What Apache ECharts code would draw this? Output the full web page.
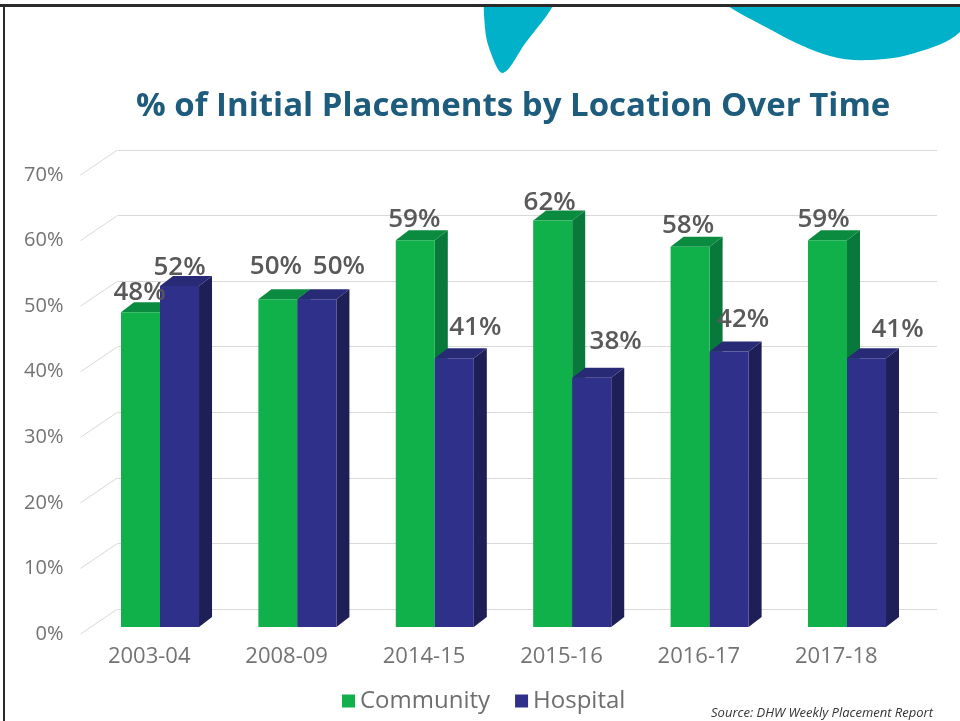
<!DOCTYPE html>
<html>
<head>
<meta charset="utf-8">
<script src="https://cdn.jsdelivr.net/npm/echarts@6/dist/echarts.min.js"></script>
<style>
  html, body { margin: 0; padding: 0; background: #fff; }
  #chart { width: 960px; height: 721px; }
</style>
</head>
<body>
<div id="chart"></div>
<script>
// data
var years = ['2003-04', '2008-09', '2014-15', '2015-16', '2016-17', '2017-18'];
var community = [48, 50, 59, 62, 58, 59];
var hospital = [52, 50, 41, 38, 42, 41];
var yTicks = [0, 10, 20, 30, 40, 50, 60, 70];

// hand placed label nudges (the source deck moved some labels by hand)
var commNudge = [[-1, 20], [-2, 33], [-1, 21], [-3, 18], [-2, 21], [-4, 21]];
var hospNudge = [[0, 18], [22, 33], [21, 31], [24, 36], [14, 32], [31, 29]];

var DEPTH_X = 13, DEPTH_Y = 10;
var FONT = '"Open Sans", "Noto Sans", sans-serif';

var colors = {
  community: { front: '#10b04b', side: '#08793a', top: '#0a8b40' },
  hospital: { front: '#2e3089', side: '#1f1f58', top: '#282a76' }
};

var chart = echarts.init(document.getElementById('chart'), null, { renderer: 'canvas' });

function barRenderer(which) {
  var c = colors[which];
  var nudge = which === 'community' ? commNudge : hospNudge;
  return function (params, api) {
    var i = api.value(0);
    var v = api.value(1);
    var base = api.coord([i, 0]);
    var top = api.coord([i, v]);
    var bw = api.size([1, 0])[0] * 0.284;
    var x0 = which === 'community' ? base[0] - bw : base[0];
    var x1 = x0 + bw;
    var yt = top[1], yb = base[1];
    var n = nudge[params.dataIndex];
    return {
      type: 'group',
      children: [
        {
          type: 'polygon',
          shape: { points: [[x1, yt], [x1 + DEPTH_X, yt - DEPTH_Y], [x1 + DEPTH_X, yb - DEPTH_Y], [x1, yb]] },
          style: { fill: c.side }
        },
        {
          type: 'polygon',
          shape: { points: [[x0, yt], [x0 + DEPTH_X, yt - DEPTH_Y], [x1 + DEPTH_X, yt - DEPTH_Y], [x1, yt]] },
          style: { fill: c.top }
        },
        {
          type: 'rect',
          shape: { x: x0, y: yt, width: bw, height: yb - yt },
          style: { fill: c.front }
        },
        {
          type: 'text',
          z2: 10,
          style: {
            text: v + '%',
            x: x0 + bw / 2 + n[0],
            y: yt - n[1],
            align: 'center',
            verticalAlign: 'middle',
            fill: '#595959',
            fontSize: 26,
            fontWeight: 600,
            fontFamily: FONT
          }
        }
      ]
    };
  };
}

var option = {
  backgroundColor: '#fff',
  animation: false,
  title: {
    text: '% of Initial Placements by Location Over Time',
    left: 131,
    top: 85,
    textStyle: { color: '#1d5c7c', fontSize: 33, fontWeight: 'bold', fontFamily: FONT }
  },
  legend: {
    data: ['Community', 'Hospital'],
    left: 337,
    top: 684,
    icon: 'rect',
    itemWidth: 13,
    itemHeight: 13,
    itemGap: 25,
    textStyle: { color: '#6e6e6e', fontSize: 24, fontFamily: FONT }
  },
  grid: [
    // back wall
    { left: 118, right: 23, top: 150, bottom: 112 },
    // front edge, carries the labels
    { left: 80.5, right: 55, top: 175, bottom: 87 },
    // plane where the bars stand
    { left: 91.3, right: 44.3, top: 168, bottom: 94 }
  ],
  xAxis: [
    { gridIndex: 0, type: 'value', min: 0, max: 1, show: false },
    {
      gridIndex: 1, type: 'category', data: years,
      axisLine: { show: false }, axisTick: { show: false },
      axisLabel: { color: '#737373', fontSize: 22, fontFamily: FONT, margin: 12 }
    },
    { gridIndex: 2, type: 'category', data: years, show: false }
  ],
  yAxis: [
    {
      gridIndex: 0, type: 'value', min: 0, max: 70, interval: 10,
      axisLine: { show: false }, axisTick: { show: false }, axisLabel: { show: false },
      splitLine: { lineStyle: { color: '#d9d9d9', width: 1 } }
    },
    {
      gridIndex: 1, type: 'value', min: 0, max: 70, interval: 10,
      axisLine: { show: false }, axisTick: { show: false }, splitLine: { show: false },
      axisLabel: { formatter: '{value}%', color: '#737373', fontSize: 20, fontFamily: FONT, margin: 17 }
    },
    { gridIndex: 2, type: 'value', min: 0, max: 70, interval: 10, show: false }
  ],
  series: [
    {
      name: 'floor-lines',
      type: 'custom',
      xAxisIndex: 1,
      yAxisIndex: 1,
      silent: true,
      data: yTicks.map(function (t) { return [0, t]; }),
      renderItem: function (params, api) {
        var p = api.coord([0, api.value(1)]);
        var x = params.coordSys.x;
        return {
          type: 'line',
          shape: { x1: x, y1: p[1], x2: x + 37, y2: p[1] - 25 },
          style: { stroke: '#d9d9d9', lineWidth: 1 }
        };
      }
    },
    {
      name: 'Community',
      type: 'custom',
      xAxisIndex: 2,
      yAxisIndex: 2,
      itemStyle: { color: colors.community.front },
      data: community.map(function (v, i) { return [i, v]; }),
      renderItem: barRenderer('community')
    },
    {
      name: 'Hospital',
      type: 'custom',
      xAxisIndex: 2,
      yAxisIndex: 2,
      itemStyle: { color: colors.hospital.front },
      data: hospital.map(function (v, i) { return [i, v]; }),
      renderItem: barRenderer('hospital')
    }
  ],
  graphic: [
    // teal decoration at the top of the slide
    {
      type: 'polygon', z: 1,
      shape: { points: [[489, -4], [485, 28], [492, 56], [503, 73], [522, 48], [554, -4]], smooth: 0.35 },
      style: { fill: '#00b1c9' }
    },
    {
      type: 'polygon', z: 1,
      shape: { points: [[722, -4], [775, 32], [830, 56], [870, 60], [915, 53], [960, 32], [975, -4]], smooth: 0.35 },
      style: { fill: '#00b1c9' }
    },
    // slide frame
    { type: 'rect', z: 2, shape: { x: 0, y: 0, width: 960, height: 4 }, style: { fill: '#fff' } },
    { type: 'rect', z: 2, shape: { x: 0, y: 4, width: 960, height: 3 }, style: { fill: '#2a2a2a' } },
    { type: 'rect', z: 2, shape: { x: 3, y: 4, width: 2, height: 717 }, style: { fill: '#2a2a2a' } },
    {
      type: 'text',
      style: {
        text: 'Source: DHW Weekly Placement Report',
        x: 933, y: 713, align: 'right', verticalAlign: 'middle',
        fill: '#333', fontSize: 13, fontStyle: 'italic', fontFamily: FONT
      }
    }
  ]
};

chart.setOption(option);
</script>
</body>
</html>
